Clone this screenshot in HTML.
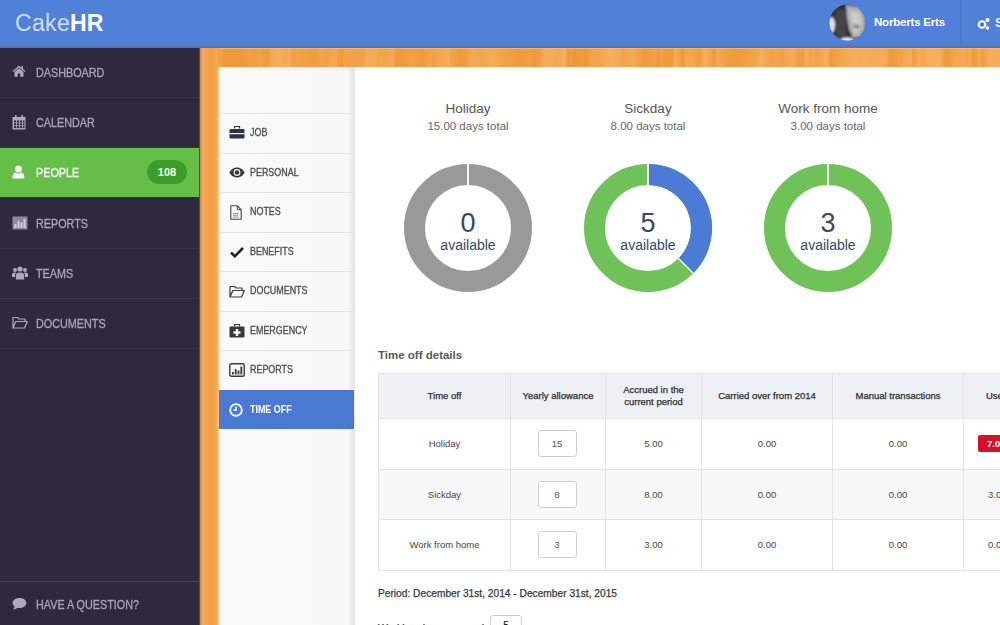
<!DOCTYPE html>
<html><head><meta charset="utf-8">
<style>
*{margin:0;padding:0;box-sizing:border-box}
html,body{width:1000px;height:625px;overflow:hidden;background:#fff;font-family:"Liberation Sans",sans-serif}
.abs{position:absolute}
#hdr{left:0;top:0;width:1000px;height:48px;background:linear-gradient(#5080d7 0,#5080d7 45px,#5a76b8 46px,#5a6ea6 48px)}
#logo{left:15px;top:10px;font-size:23px;color:#d3dff4;letter-spacing:0.35px}
#logo b{letter-spacing:0}
#logo b{color:#fff}
#side{left:0;top:48px;width:199px;height:577px;background:#2e293d}
.si{position:absolute;left:0;width:199px;height:50px;border-bottom:1px solid #39344a;color:#a9a4b9;font-size:11px}
.si .t{position:absolute;left:36px;top:18px;font-size:12px;transform:scaleX(0.9);transform-origin:0 0;white-space:nowrap;-webkit-text-stroke:0.3px currentColor}
.si svg{position:absolute;left:12px;top:17px}
#wood{left:199px;top:48px;width:801px;height:577px;background:linear-gradient(90deg,rgb(52,40,50) 0px,rgb(200,140,80) 1.5px,rgb(244,168,96) 3px,rgb(246,170,88) 6px,rgb(242,160,66) 11px,rgb(243,162,70) 15px,rgb(245,170,86) 18px,rgb(241,159,68) 20px,rgb(241,161,71) 23px,rgb(238,153,58) 25px,rgb(238,154,59) 33px,rgb(238,153,58) 41px,rgb(240,157,64) 49px,rgb(242,162,73) 51px,rgb(240,157,65) 53px,rgb(242,162,72) 61px,rgb(239,154,60) 69px,rgb(244,167,81) 72px,rgb(247,174,93) 80px,rgb(243,166,79) 88px,rgb(247,175,95) 90px,rgb(243,165,78) 92px,rgb(240,158,67) 95px,rgb(243,164,77) 98px,rgb(241,159,68) 106px,rgb(239,156,63) 116px,rgb(243,165,78) 124px,rgb(241,160,70) 127px,rgb(245,169,84) 135px,rgb(238,153,58) 143px,rgb(242,163,75) 146px,rgb(242,162,73) 154px,rgb(242,163,74) 158px,rgb(241,160,70) 164px,rgb(245,171,87) 167px,rgb(245,170,87) 177px,rgb(243,165,78) 179px,rgb(242,163,75) 187px,rgb(245,169,85) 191px,rgb(244,166,80) 195px,rgb(239,154,60) 197px,rgb(239,155,62) 203px,rgb(239,155,62) 207px,rgb(242,162,72) 213px,rgb(238,153,59) 223px,rgb(243,165,78) 231px,rgb(241,160,69) 235px,rgb(243,166,79) 239px,rgb(245,171,87) 247px,rgb(246,172,89) 249px,rgb(242,163,74) 253px,rgb(238,153,58) 263px,rgb(245,168,84) 273px,rgb(243,165,79) 283px,rgb(246,171,88) 293px,rgb(245,169,84) 297px,rgb(241,160,69) 307px,rgb(241,160,70) 313px,rgb(239,154,60) 321px,rgb(240,157,64) 323px,rgb(239,155,61) 327px,rgb(241,161,71) 330px,rgb(238,153,59) 336px,rgb(242,161,72) 342px,rgb(246,173,91) 346px,rgb(246,172,90) 352px,rgb(245,168,84) 356px,rgb(244,168,83) 360px,rgb(247,174,94) 366px,rgb(238,153,59) 369px,rgb(240,157,65) 372px,rgb(238,152,56) 375px,rgb(239,156,63) 383px,rgb(238,152,56) 387px,rgb(243,164,77) 393px,rgb(243,165,78) 401px,rgb(244,168,83) 404px,rgb(247,174,94) 412px,rgb(244,168,83) 422px,rgb(242,162,74) 424px,rgb(245,171,87) 434px,rgb(241,161,71) 440px,rgb(239,154,60) 446px,rgb(242,161,72) 456px,rgb(238,153,58) 459px,rgb(242,162,73) 462px,rgb(241,160,69) 464px,rgb(239,154,60) 466px,rgb(239,155,62) 474px,rgb(247,174,93) 476px,rgb(238,152,57) 484px,rgb(244,166,80) 487px,rgb(244,167,81) 490px,rgb(244,166,80) 494px,rgb(239,154,60) 500px,rgb(247,175,95) 506px,rgb(242,163,75) 512px,rgb(238,154,59) 516px,rgb(245,169,85) 518px,rgb(240,158,66) 528px,rgb(239,155,62) 538px,rgb(240,156,64) 540px,rgb(241,160,70) 548px,rgb(243,165,77) 558px,rgb(245,170,86) 560px,rgb(247,175,95) 564px,rgb(244,168,83) 566px,rgb(243,164,76) 570px,rgb(241,160,70) 573px,rgb(243,164,77) 576px,rgb(241,159,69) 584px,rgb(244,166,80) 587px,rgb(246,171,88) 590px,rgb(245,169,85) 596px,rgb(239,156,63) 599px,rgb(241,160,70) 605px,rgb(247,175,95) 607px,rgb(242,163,74) 611px,rgb(244,168,83) 614px,rgb(242,162,73) 618px,rgb(247,175,95) 628px,rgb(238,153,59) 632px,rgb(240,157,65) 634px,rgb(241,160,69) 637px,rgb(244,166,80) 643px,rgb(246,172,89) 651px,rgb(247,173,92) 657px,rgb(245,171,87) 661px,rgb(246,172,89) 663px,rgb(247,173,92) 665px,rgb(245,170,86) 675px,rgb(246,173,91) 681px,rgb(245,170,87) 687px,rgb(238,154,59) 691px,rgb(241,161,71) 701px,rgb(245,169,85) 707px,rgb(245,169,84) 709px,rgb(247,175,95) 712px,rgb(239,155,62) 714px,rgb(246,171,88) 720px,rgb(244,166,80) 723px,rgb(247,175,95) 731px,rgb(247,174,93) 741px,rgb(243,165,77) 744px,rgb(238,152,56) 747px,rgb(244,167,81) 757px,rgb(245,169,85) 765px,rgb(242,162,73) 768px,rgb(246,171,89) 771px,rgb(238,152,57) 774px,rgb(240,159,67) 777px,rgb(245,170,86) 780px,rgb(240,158,66) 784px,rgb(246,172,89) 790px,rgb(247,173,92) 792px,rgb(246,173,91) 796px)}
#sub{left:219px;top:67px;width:136px;height:558px;background:linear-gradient(90deg,#f9f9f9 0,#f8f8f8 129px,#e3e3e3 135px,#eeeeee 136px)}
.ni{position:absolute;left:0;width:135px;height:40px;border-top:1px solid #e2e2e2;color:#4a4a4a;font-size:9px}
.ni .t{position:absolute;left:31px;top:12px;font-size:10.5px;transform:scaleX(0.85);transform-origin:0 0;white-space:nowrap;-webkit-text-stroke:0.3px currentColor}
.ni svg{position:absolute;left:10px;top:12px}
#main{left:355px;top:67px;width:646px;height:558px;background:#fff}
.ct{position:absolute;width:180px;text-align:center;color:#555}
.ct .a{font-size:13.5px;color:#555}
.ct .b{font-size:11.5px;color:#666;margin-top:4px}
.dn{position:absolute;width:180px;text-align:center;color:#34495e;margin-top:2px}
.dn .n{font-size:27px;line-height:28px}
.dn .v{font-size:14px;line-height:16px}
table{border-collapse:collapse;position:absolute;left:378px;top:373px;width:685px;table-layout:fixed;font-size:9.5px;color:#444}
td,th{border:1px solid #e3e3e3;text-align:center;font-weight:normal}
th{background:#edf0f4;height:45px;line-height:12px;color:#2e2e2e;-webkit-text-stroke:0.25px #2e2e2e}
td{height:50.6px}
tr.alt td{background:#f8f8f8}
.inp{display:inline-block;width:39px;height:27px;border:1px solid #cfcfcf;border-radius:3px;background:#fff;line-height:25px;font-size:9.5px;color:#555;vertical-align:middle;position:relative;left:-1px}
.red{display:inline-block;background:#d2112b;color:#fff;font-weight:bold;padding:3px 6px 3px 9px;border-radius:2px}
</style></head><body>
<div id="hdr" class="abs"></div>
<div id="logo" class="abs">Cake<b>HR</b></div>

<div id="side" class="abs">
 <div class="si" style="top:0">
  <svg width="14" height="12" viewBox="0 0 14 12"><path d="M7 0.5L0.5 6.2l1 .9L7 2.6l5.5 4.5 1-.9L11 4V1H9.5v1.8Z" fill="#aeaabb"/><path d="M2.5 7L7 3.3 11.5 7v4.7H8.3V8.5H5.7v3.2H2.5Z" fill="#aeaabb"/></svg>
  <span class="t">DASHBOARD</span></div>
 <div class="si" style="top:50px">
  <svg width="14" height="15" viewBox="0 0 14 15"><rect x="0.5" y="2" width="13" height="12.5" fill="#aeaabb"/><g fill="#2e293d"><rect x="2" y="5.5" width="2.2" height="2"/><rect x="5" y="5.5" width="2.2" height="2"/><rect x="8" y="5.5" width="2.2" height="2"/><rect x="11" y="5.5" width="1.5" height="2"/><rect x="2" y="8.3" width="2.2" height="2"/><rect x="5" y="8.3" width="2.2" height="2"/><rect x="8" y="8.3" width="2.2" height="2"/><rect x="11" y="8.3" width="1.5" height="2"/><rect x="2" y="11.1" width="2.2" height="2"/><rect x="5" y="11.1" width="2.2" height="2"/><rect x="8" y="11.1" width="2.2" height="2"/><rect x="11" y="11.1" width="1.5" height="2"/></g><rect x="3" y="0" width="1.6" height="3.5" fill="#aeaabb"/><rect x="9.4" y="0" width="1.6" height="3.5" fill="#aeaabb"/></svg>
  <span class="t">CALENDAR</span></div>
 <div class="si" style="top:100px;background:linear-gradient(#64be48 0,#64be48 49px,#2e293d 49px);border-bottom:none;color:#fff">
  <svg width="13" height="14" viewBox="0 0 13 14"><circle cx="6.5" cy="4" r="3.4" fill="#fff"/><path d="M0.5 13.5C0.5 9 2.5 7.5 4 7.5L6.5 9 9 7.5C10.5 7.5 12.5 9 12.5 13.5Z" fill="#fff"/></svg>
  <span class="t">PEOPLE</span>
  <div class="abs" style="left:147px;top:12px;width:40px;height:24px;border-radius:12px;background:#3e9c2b;color:#f4fbf2;font-size:11px;font-weight:bold;text-align:center;line-height:24px">108</div>
 </div>
 <div class="si" style="top:151px">
  <svg width="16" height="14" viewBox="0 0 16 14"><rect x="0.5" y="0.5" width="15" height="13" fill="#8e89a0"/><g fill="#d0ccdb"><rect x="2.5" y="8" width="2" height="4"/><rect x="5.5" y="5" width="2" height="7"/><rect x="8.5" y="6.5" width="2" height="5.5"/><rect x="11.5" y="3" width="2" height="9"/></g></svg>
  <span class="t">REPORTS</span></div>
 <div class="si" style="top:201px">
  <svg width="16" height="14" viewBox="0 0 16 14"><g fill="#aeaabb"><circle cx="8" cy="3" r="2.6"/><circle cx="3" cy="4" r="2"/><circle cx="13" cy="4" r="2"/><path d="M3.8 13.5V9.5C3.8 7.5 5.5 6.5 8 6.5S12.2 7.5 12.2 9.5v4Z"/><path d="M0 11V8.5C0 7.2 1 6.5 3 6.5c.6 0 1 .1 1.4.3C3.5 7.5 3 8.5 3 9.5V11Z"/><path d="M16 11V8.5C16 7.2 15 6.5 13 6.5c-.6 0-1 .1-1.4.3.9.7 1.4 1.7 1.4 2.7V11Z"/></g></svg>
  <span class="t">TEAMS</span></div>
 <div class="si" style="top:251px">
  <svg width="16" height="13" viewBox="0 0 16 13"><path d="M1 12V1.5h4.5l1.5 1.5h6v2.5M1 12l2.8-6.5H15.3L12.5 12Z" fill="none" stroke="#aeaabb" stroke-width="1.2" stroke-linejoin="round"/></svg>
  <span class="t">DOCUMENTS</span></div>
 <div class="si" style="top:533px;height:44px;border-top:1px solid #46415a;border-bottom:none">
  <svg width="15" height="13" viewBox="0 0 15 13" style="top:15px"><path d="M7.5 1C3.6 1 .6 3.2.6 6c0 1.4.8 2.7 2 3.6-.1 1.2-.8 2.2-1.6 2.8 1.9 0 3.3-.7 4.2-1.6.7.2 1.5.2 2.3.2 3.9 0 6.9-2.2 6.9-5S11.4 1 7.5 1Z" fill="#aeaabb"/></svg>
  <span class="t" style="top:16px">HAVE A QUESTION?</span></div>
</div>

<div id="wood" class="abs"></div><div class="abs" style="left:217px;top:67px;width:2px;height:558px;background:linear-gradient(90deg,rgba(250,200,140,.3),rgba(252,220,180,.7))"></div><div class="abs" style="left:218px;top:48px;width:782px;height:1px;background:rgba(250,200,150,.55)"></div>
<div id="sub" class="abs">
 <div class="ni" style="top:46px">
  <svg width="16" height="14" viewBox="0 0 16 14"><path d="M5.5 2.5V1.2C5.5.6 6 .3 6.5.3h3c.5 0 1 .3 1 .9v1.3" fill="none" stroke="#2b3444" stroke-width="1.3"/><rect x="0.5" y="3" width="15" height="9.5" rx="1" fill="#2b3444"/><rect x="0.5" y="7" width="15" height="1.2" fill="#f8f8f8"/></svg>
  <span class="t">JOB</span></div>
 <div class="ni" style="top:86px">
  <svg width="16" height="11" viewBox="0 0 16 11" style="top:13px"><path d="M8 .5C4.3.5 1.5 3 .5 5.5 1.5 8 4.3 10.5 8 10.5S14.5 8 15.5 5.5C14.5 3 11.7.5 8 .5Z" fill="#3a3a3a"/><circle cx="8" cy="5.5" r="3.4" fill="#f8f8f8"/><circle cx="8" cy="5.5" r="2.3" fill="#3a3a3a"/></svg>
  <span class="t">PERSONAL</span></div>
 <div class="ni" style="top:125px">
  <svg width="12" height="15" viewBox="0 0 12 15" style="left:11px"><path d="M.8.8h6.5L11.2 4.7V14.2H.8Z" fill="none" stroke="#444" stroke-width="1.1"/><path d="M7.3.8v3.9h3.9" fill="none" stroke="#444" stroke-width="1"/><path d="M3 8.5h5.5M3 10.3h5.5M3 12.1h5.5" stroke="#777" stroke-width=".8"/></svg>
  <span class="t">NOTES</span></div>
 <div class="ni" style="top:165px">
  <svg width="14" height="12" viewBox="0 0 14 12" style="left:11px;top:13px"><path d="M1 6.5l3.8 3.8L13 2" fill="none" stroke="#222" stroke-width="2.6"/></svg>
  <span class="t">BENEFITS</span></div>
 <div class="ni" style="top:204px">
  <svg width="16" height="13" viewBox="0 0 16 13" style="top:13px"><path d="M1 12V1.5h4.5l1.5 1.5h6v2.5M1 12l2.8-6.5H15.3L12.5 12Z" fill="none" stroke="#3a3a3a" stroke-width="1.2" stroke-linejoin="round"/></svg>
  <span class="t">DOCUMENTS</span></div>
 <div class="ni" style="top:244px">
  <svg width="16" height="14" viewBox="0 0 16 14"><path d="M5.5 2.5V1.2C5.5.6 6 .3 6.5.3h3c.5 0 1 .3 1 .9v1.3" fill="none" stroke="#3a3a3a" stroke-width="1.3"/><rect x="0.5" y="2.5" width="15" height="11" rx="1" fill="#3a3a3a"/><path d="M6.8 5h2.4v2.3h2.3v2.4H9.2V12H6.8V9.7H4.5V7.3h2.3Z" fill="#f8f8f8"/></svg>
  <span class="t">EMERGENCY</span></div>
 <div class="ni" style="top:283px">
  <svg width="16" height="14" viewBox="0 0 16 14"><rect x=".8" y=".8" width="14.4" height="12.4" rx="1.5" fill="none" stroke="#3a3a3a" stroke-width="1.4"/><g fill="#3a3a3a"><rect x="3" y="9" width="1.8" height="2.5"/><rect x="5.8" y="6" width="1.8" height="5.5"/><rect x="8.6" y="7.5" width="1.8" height="4"/><rect x="11.4" y="3.5" width="1.8" height="8"/></g></svg>
  <span class="t">REPORTS</span></div>
 <div class="ni" style="top:323px;background:#4a79d3;border-top:1px solid #4a79d3;color:#fff;height:39px">
  <svg width="14" height="14" viewBox="0 0 14 14"><circle cx="7" cy="7" r="5.8" fill="none" stroke="#fff" stroke-width="1.8"/><path d="M7 3.5V7.3H4.5" fill="none" stroke="#fff" stroke-width="1.5"/></svg>
  <span class="t" style="font-weight:bold;-webkit-text-stroke:0">TIME OFF</span></div>
</div>

<div id="main" class="abs"></div>

<div class="ct" style="left:378px;top:101px"><div class="a">Holiday</div><div class="b">15.00 days total</div></div>
<div class="ct" style="left:558px;top:101px"><div class="a">Sickday</div><div class="b">8.00 days total</div></div>
<div class="ct" style="left:738px;top:101px"><div class="a">Work from home</div><div class="b">3.00 days total</div></div>

<svg class="abs" style="left:354px;top:67px" width="646" height="260" viewBox="354 67 646 260">
 <g fill="none" stroke-width="21">
  <circle cx="468" cy="228" r="53.5" stroke="#999999"/>
  <circle cx="648" cy="228" r="53.5" stroke="#6fc257"/>
  <path d="M648 174.5 A53.5 53.5 0 0 1 685.83 265.83" stroke="#4b7bd4"/>
  <circle cx="828" cy="228" r="53.5" stroke="#6fc257"/>
 </g>
 <g stroke="#fff" stroke-width="1.8">
  <line x1="468" y1="162" x2="468" y2="186"/>
  <line x1="648" y1="162" x2="648" y2="186"/>
  <line x1="828" y1="162" x2="828" y2="186"/>
  <line x1="678" y1="258" x2="694" y2="274" stroke-width="1.2"/>
 </g>
</svg>
<div class="dn" style="left:378px;top:207px"><div class="n">0</div><div class="v">available</div></div>
<div class="dn" style="left:558px;top:207px"><div class="n">5</div><div class="v">available</div></div>
<div class="dn" style="left:738px;top:207px"><div class="n">3</div><div class="v">available</div></div>

<div class="abs" style="left:378px;top:349px;font-size:11.5px;font-weight:bold;color:#585858">Time off details</div>

<table>
 <colgroup><col style="width:132px"><col style="width:95px"><col style="width:96px"><col style="width:131px"><col style="width:131px"><col style="width:100px"></colgroup>
 <tr><th>Time off</th><th>Yearly allowance</th><th>Accrued in the<br>current period</th><th>Carried over from 2014</th><th>Manual transactions</th><th style="text-align:left;padding-left:22px">Used</th></tr>
 <tr><td>Holiday</td><td><span class="inp">15</span></td><td>5.00</td><td>0.00</td><td>0.00</td><td style="text-align:left;padding-left:14px"><span class="red">7.00</span></td></tr>
 <tr class="alt"><td>Sickday</td><td><span class="inp">8</span></td><td>8.00</td><td>0.00</td><td>0.00</td><td style="text-align:left;padding-left:24px">3.00</td></tr>
 <tr><td>Work from home</td><td><span class="inp">3</span></td><td>3.00</td><td>0.00</td><td>0.00</td><td style="text-align:left;padding-left:24px">0.00</td></tr>
</table>

<div class="abs" style="left:378px;top:588px;font-size:10.2px;color:#3a3a3a;-webkit-text-stroke:0.25px #3a3a3a">Period: December 31st, 2014 - December 31st, 2015</div>
<div class="abs" style="left:378px;top:622px;font-size:10.5px;color:#444;-webkit-text-stroke:0.25px #444">Working days per week</div>
<div class="abs" style="left:490px;top:615px;width:32px;height:22px;border:1px solid #ccc;border-radius:3px;font-size:10px;text-align:center;line-height:20px">5</div>

<!-- header right -->
<svg class="abs" style="left:829px;top:4px" width="37" height="37" viewBox="0 0 37 37"><defs><clipPath id="av"><circle cx="18.5" cy="18.5" r="18"/></clipPath><filter id="bl"><feGaussianBlur stdDeviation="0.8"/></filter></defs><g clip-path="url(#av)" filter="url(#bl)"><rect width="37" height="37" fill="#303034"/><rect x="7" y="6" width="10" height="28" fill="#45454a"/><ellipse cx="2.5" cy="21" rx="3.5" ry="8" fill="#e0e0e0"/><path d="M17 1 L30 3 L36 12 L36 26 L31 33 L24 34 L20 25 L18 14 Z" fill="#b0b0b0"/><path d="M21 7 L30 8 L33 18 L31 27 L25 30 Z" fill="#cacaca"/><path d="M24 20 L31 21 L30 25 L25 24Z" fill="#8a8a8a"/><ellipse cx="18" cy="37" rx="7" ry="3.5" fill="#eeeeee"/></g></svg>
<div class="abs" style="left:874px;top:16px;font-size:11.5px;color:#fff;font-weight:bold;letter-spacing:-0.2px">Norberts Erts</div>
<div class="abs" style="left:960px;top:0;width:2px;height:47px;background:#4b77c9"></div>
<svg class="abs" style="left:977px;top:17px" width="14" height="13" viewBox="0 0 14 13"><circle cx="5" cy="7.5" r="3.3" fill="none" stroke="#fff" stroke-width="2"/><circle cx="10.5" cy="3" r="2" fill="#fff"/><circle cx="10.5" cy="11" r="1.8" fill="#fff"/></svg>
<div class="abs" style="left:995px;top:16px;font-size:12.5px;font-weight:bold;color:#eef3fb">S</div>
</body></html>
